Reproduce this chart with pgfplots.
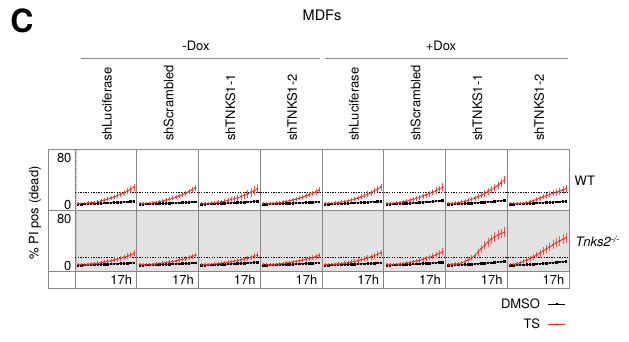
\documentclass[border=0pt]{standalone}
\usepackage{pgfplots}
\pgfplotsset{compat=1.18}
\usepackage{pgfplotstable}
\usepackage{fontspec}
\setmainfont{TeX Gyre Heros}
\definecolor{tsred}{RGB}{240,45,35}
\definecolor{tserr}{RGB}{245,90,80}
\definecolor{framegray}{RGB}{135,135,135}
\definecolor{bggray}{RGB}{226,226,226}

% black DMSO templates (t y)
\pgfplotstableread[row sep=\\]{t y\\0 1\\1 1\\2 1.1\\3 1.3\\4 1.5\\5 1.7\\6 2\\7 2.2\\8 2.5\\9 2.7\\10 3\\11 3.2\\12 3.5\\13 3.8\\14 4.1\\15 4.4\\16 4.7\\17 5\\}\kA
\pgfplotstableread[row sep=\\]{t y\\0 1\\1 1\\2 1.1\\3 1.3\\4 1.6\\5 1.9\\6 2.2\\7 2.5\\8 2.8\\9 3.1\\10 3.4\\11 3.8\\12 4.1\\13 4.4\\14 4.8\\15 5.2\\16 5.6\\17 6\\}\kB
\pgfplotstableread[row sep=\\]{t y\\0 1\\1 1\\2 1.1\\3 1.3\\4 1.6\\5 2\\6 2.3\\7 2.7\\8 3.1\\9 3.5\\10 3.9\\11 4.3\\12 4.8\\13 5.3\\14 5.8\\15 6.3\\16 6.9\\17 7.5\\}\kC

% WT, TS (t y e)
\pgfplotstableread[row sep=\\]{t y e\\0 2 .6\\1 2 .6\\2 2.3 .6\\3 2.8 .7\\4 3.4 .8\\5 4.2 .9\\6 5.4 1\\7 6.5 1.2\\8 7.9 1.4\\9 9.6 1.6\\10 11.2 1.8\\11 13.2 2\\12 15.4 2.3\\13 17.7 2.5\\14 20.2 2.8\\15 23 3\\16 26.4 3.4\\17 30 3.8\\}\wtA
\pgfplotstableread[row sep=\\]{t y e\\0 2 .5\\1 2 .5\\2 2.3 .6\\3 2.8 .6\\4 3.4 .7\\5 4.2 .8\\6 5.2 .9\\7 6.3 1\\8 7.7 1.1\\9 9.3 1.3\\10 10.9 1.4\\11 12.8 1.6\\12 15 1.8\\13 17.1 2\\14 19.6 2.2\\15 22.3 2.4\\16 25.5 2.7\\17 29 3\\}\wtB
\pgfplotstableread[row sep=\\]{t y e\\0 2 .6\\1 2 .7\\2 2.3 .8\\3 2.8 1\\4 3.3 1.1\\5 4 1.3\\6 5 1.6\\7 6 1.9\\8 7.3 2.2\\9 8.8 2.6\\10 10.3 2.9\\11 12 3.3\\12 14 3.7\\13 16 4.1\\14 18.3 4.5\\15 20.8 4.9\\16 23.8 5.3\\17 27 5.7\\}\wtC
\pgfplotstableread[row sep=\\]{t y e\\0 2 .5\\1 2 .5\\2 2.2 .6\\3 2.7 .7\\4 3.2 .8\\5 3.8 .9\\6 4.8 1\\7 5.7 1.1\\8 6.8 1.3\\9 8.2 1.5\\10 9.6 1.6\\11 11.2 1.8\\12 13 2\\13 14.9 2.2\\14 17 2.4\\15 19.3 2.6\\16 22 2.8\\17 25 3\\}\wtD
\pgfplotstableread[row sep=\\]{t y e\\0 2 .6\\1 2 .6\\2 2.3 .7\\3 2.9 .8\\4 3.5 .9\\5 4.3 1\\6 5.5 1.2\\7 6.7 1.4\\8 8 1.6\\9 9.7 1.8\\10 11.4 2\\11 13.4 2.3\\12 15.6 2.5\\13 17.9 2.8\\14 20.4 3\\15 23.2 3.3\\16 26.5 3.6\\17 30 4\\}\wtE
\pgfplotstableread[row sep=\\]{t y e\\0 2 .6\\1 2 .7\\2 2.5 .8\\3 3.2 .9\\4 4 1\\5 5 1.2\\6 6.2 1.4\\7 7.5 1.6\\8 9 1.8\\9 10.7 2\\10 12.5 2.3\\11 14.5 2.5\\12 16.6 2.8\\13 18.8 3\\14 21.2 3.3\\15 23.8 3.6\\16 26.8 3.9\\17 30 4.2\\}\wtF
\pgfplotstableread[row sep=\\]{t y e\\0 2 .6\\1 2.3 .7\\2 2.8 .8\\3 3.6 1\\4 4.6 1.2\\5 5.9 1.4\\6 7.4 1.7\\7 9.2 2\\8 11.3 2.3\\9 13.6 2.6\\10 16.2 2.9\\11 19.1 3.2\\12 22.2 3.5\\13 25.5 3.8\\14 29 4.1\\15 32.8 4.4\\16 37 4.7\\17 42 5\\}\wtG
\pgfplotstableread[row sep=\\]{t y e\\0 2 .5\\1 2 .5\\2 2 .5\\3 2.2 .6\\4 2.6 .7\\5 3.5 .9\\6 5 1.2\\7 6.8 1.5\\8 8.8 1.8\\9 11 2.1\\10 13.4 2.4\\11 15.5 2.7\\12 17.5 3\\13 19.4 3.3\\14 21.3 3.6\\15 23.2 3.9\\16 25.2 4.2\\17 27.5 4.5\\}\wtH

% Tnks2-/-, TS (t y e)
\pgfplotstableread[row sep=\\]{t y e\\0 2 .5\\1 2 .5\\2 2.2 .6\\3 2.6 .7\\4 3 .8\\5 3.5 .9\\6 4.3 1\\7 5 1.2\\8 6 1.4\\9 7.1 1.6\\10 8.3 1.8\\11 9.6 2\\12 11.1 2.2\\13 12.6 2.4\\14 14.4 2.6\\15 16.3 2.8\\16 18.5 3\\17 21 3.2\\}\tkA
\pgfplotstableread[row sep=\\]{t y e\\0 2 .5\\1 2 .5\\2 2.2 .5\\3 2.5 .6\\4 2.8 .6\\5 3.3 .7\\6 3.9 .8\\7 4.6 .9\\8 5.4 1\\9 6.3 1.1\\10 7.3 1.2\\11 8.4 1.4\\12 9.7 1.5\\13 11 1.7\\14 12.4 1.8\\15 14 2\\16 15.9 2.2\\17 18 2.4\\}\tkB
\pgfplotstableread[row sep=\\]{t y e\\0 2 .5\\1 2 .5\\2 2.2 .6\\3 2.6 .7\\4 3 .8\\5 3.5 .9\\6 4.2 1\\7 4.9 1.1\\8 5.7 1.3\\9 6.6 1.4\\10 7.6 1.6\\11 8.7 1.8\\12 9.9 2\\13 11.2 2.2\\14 12.6 2.4\\15 14.2 2.6\\16 16 2.8\\17 18 3\\}\tkC
\pgfplotstableread[row sep=\\]{t y e\\0 2 .5\\1 2 .5\\2 2.1 .5\\3 2.4 .6\\4 2.8 .6\\5 3.3 .7\\6 3.9 .8\\7 4.6 .9\\8 5.4 1\\9 6.3 1.1\\10 7.3 1.2\\11 8.4 1.4\\12 9.6 1.5\\13 10.9 1.7\\14 12.3 1.8\\15 13.8 2\\16 15.6 2.2\\17 17.5 2.4\\}\tkD
\pgfplotstableread[row sep=\\]{t y e\\0 2 .5\\1 2 .5\\2 2.2 .6\\3 2.6 .7\\4 3 .8\\5 3.6 .9\\6 4.4 1\\7 5.2 1.2\\8 6.2 1.4\\9 7.4 1.6\\10 8.6 1.8\\11 10 2\\12 11.6 2.2\\13 13.2 2.4\\14 15 2.6\\15 17 2.8\\16 19.4 3\\17 22 3.2\\}\tkE
\pgfplotstableread[row sep=\\]{t y e\\0 2 .5\\1 2 .5\\2 2.2 .6\\3 2.7 .7\\4 3.1 .8\\5 3.8 .9\\6 4.6 1.1\\7 5.5 1.3\\8 6.6 1.5\\9 7.9 1.7\\10 9.3 1.9\\11 10.8 2.1\\12 12.6 2.4\\13 14.3 2.6\\14 16.3 2.9\\15 18.5 3.1\\16 21 3.4\\17 24 3.7\\}\tkF
\pgfplotstableread[row sep=\\]{t y e\\0 2 .6\\1 2.5 .7\\2 3 .8\\3 3.5 1\\4 5 1.3\\5 7 1.7\\6 10 2.2\\7 13 2.8\\8 17 3.4\\9 23 4\\10 29 4.6\\11 35 5.1\\12 40 5.5\\13 45 5.8\\14 49 6\\15 52 6.1\\16 55 6.2\\17 57 6.3\\}\tkG
\pgfplotstableread[row sep=\\]{t y e\\0 2 .6\\1 2.5 .8\\2 3.5 1\\3 5 1.3\\4 7 1.7\\5 9.5 2.1\\6 12 2.6\\7 15 3\\8 18 3.5\\9 21.5 4\\10 25 4.4\\11 28.5 4.8\\12 32 5.2\\13 35.5 5.5\\14 39 5.8\\15 42 6\\16 45 6.2\\17 48 6.4\\}\tkH

\pgfplotsset{panel/.style={
  scale only axis, width=61.75pt, height=61pt, anchor=north west,
  xmin=-0.9, xmax=17.9, ymin=-9, ymax=95,
  xtick=\empty, ytick=\empty,
  axis line style={framegray, line width=0.7pt},
  major tick length=0pt,
  tick label style={font=\fontsize{13}{13}\selectfont},
  /pgf/number format/assume math mode=true,
}}

\newcommand{\panel}[7][]{%
  \begin{axis}[panel, at={(#2pt,#3pt)}, axis background/.style={fill=#4}, #1]
  \addplot[forget plot, black, line width=0.6pt, dash pattern=on 1.3pt off 1.3pt] coordinates {(-0.9,#5) (17.9,#5)};
  \addplot[black, line width=0.7pt, mark=square*, mark size=0.75pt] table[x=t, y=y] {#6};
  \addplot[tsred, line width=0.7pt, mark=*, mark size=0.6pt,
    error bars/.cd, y dir=both, y explicit,
    error bar style={line width=0.4pt, tserr},
    error mark options={tserr, mark size=1.2pt, line width=0.4pt}]
    table[x=t, y=y, y error=e] {#7};
  \end{axis}}

\begin{document}
\begin{tikzpicture}[x=1pt, y=1pt, font=\fontsize{13}{15}\selectfont]
\useasboundingbox (0,0) rectangle (629,341);

% WT row
\panel[ytick={0,80}]{75}{192}{white}{22}{\kB}{\wtA}
\panel{136.75}{192}{white}{22}{\kA}{\wtB}
\panel{198.5}{192}{white}{22}{\kB}{\wtC}
\panel{260.25}{192}{white}{22}{\kA}{\wtD}
\panel{322}{192}{white}{22}{\kB}{\wtE}
\panel{383.75}{192}{white}{22}{\kC}{\wtF}
\panel{445.5}{192}{white}{22}{\kC}{\wtG}
\panel{507.25}{192}{white}{22}{\kB}{\wtH}
% Tnks2 row
\panel[ytick={0,80}]{75}{131}{bggray}{15}{\kA}{\tkA}
\panel{136.75}{131}{bggray}{15}{\kA}{\tkB}
\panel{198.5}{131}{bggray}{15}{\kB}{\tkC}
\panel{260.25}{131}{bggray}{15}{\kA}{\tkD}
\panel{322}{131}{bggray}{15}{\kA}{\tkE}
\panel{383.75}{131}{bggray}{15}{\kB}{\tkF}
\panel{445.5}{131}{bggray}{15}{\kC}{\tkG}
\panel[legend entries={DMSO,TS}, legend plot pos=right, legend cell align=right,
  legend style={at={(1.0,-0.38)}, anchor=north east, draw=none, fill=none,
  font=\fontsize{13}{15}\selectfont, row sep=5pt, column sep=6pt}]{507.25}{131}{bggray}{15}{\kC}{\tkH}

% frames
\draw[framegray, line width=0.7pt] (48,192) -- (75,192);
\draw[framegray, line width=0.7pt] (48,192) -- (48,53) -- (569,53) -- (569,70);
\draw[framegray, line width=0.7pt] (48,131) -- (75,131);
\draw[framegray, line width=0.7pt] (48,70) -- (75,70);
\foreach \k in {0,...,7} {
  \draw[framegray, line width=0.7pt] ({75+61.75*\k},70) -- ({75+61.75*\k},53);
  \node[anchor=east, inner sep=0pt] at ({75+61.75*(\k+1)-4.5},61.5) {17h};
}
\draw[gray!70, densely dotted, line width=1pt] (76,191) -- (76,71);

% titles
\node[font=\fontsize{32}{32}\selectfont\bfseries] at (22,320) {C};
\node[font=\fontsize{14.5}{16}\selectfont] at (322,326) {MDFs};
\node at (196,295) {-Dox};
\node at (441,295) {+Dox};
\draw[framegray, line width=0.7pt] (81,283) -- (320,283);
\draw[framegray, line width=0.7pt] (325,283) -- (568,283);
\foreach \lab [count=\i from 0] in {shLuciferase,shScrambled,shTNKS1-1,shTNKS1-2,shLuciferase,shScrambled,shTNKS1-1,shTNKS1-2} {
  \node[rotate=90, anchor=west] at ({75+61.75*\i+32},196.5) {\lab};
}
\node[rotate=90] at (35,128) {\% PI pos (dead)};
\node[anchor=west] at (571,160) {WT};
\node[anchor=west] at (572,100) {\textit{Tnks2}\textsuperscript{\textit{-/-}}};
\end{tikzpicture}
\end{document}
